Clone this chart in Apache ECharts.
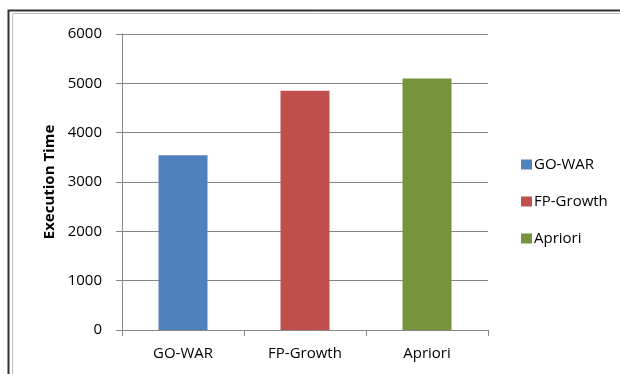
<!DOCTYPE html>
<html>
<head>
<meta charset="utf-8">
<script src="https://cdn.jsdelivr.net/npm/echarts@6/dist/echarts.min.js"></script>
<style>
html,body{margin:0;padding:0;background:#fff;}
#main{width:620px;height:374px;}
</style>
</head>
<body>
<div id="main"></div>
<script>
const categories = ['GO-WAR', 'FP-Growth', 'Apriori'];
const seriesNames = ['GO-WAR', 'FP-Growth', 'Apriori'];
const values = [3540, 4850, 5100];
const colors = ['#4F81BD', '#C0504D', '#77933C'];
const yTicks = { min: 0, max: 6000, interval: 1000 };

const font = 'Open Sans';
const chart = echarts.init(document.getElementById('main'));
const series = seriesNames.map((name, i) => ({
  name: name,
  type: 'bar',
  stack: 'all',
  barWidth: 49,
  itemStyle: { color: colors[i] },
  data: categories.map((c, j) => (j === i ? values[i] : '-'))
}));

chart.setOption({
  animation: false,
  textStyle: { fontFamily: font },
  graphic: [
    { type: 'rect', shape: { x: 8.5, y: 10.5, width: 700, height: 500 }, style: { fill: 'none', stroke: '#333', lineWidth: 2 } },
    { type: 'rect', shape: { x: 12.5, y: 13.5, width: 700, height: 500 }, style: { fill: 'none', stroke: '#bbb', lineWidth: 1 } }
  ],
  grid: { left: 122, right: 132, top: 34, bottom: 44 },
  legend: {
    orient: 'vertical',
    left: 516,
    top: 151,
    itemWidth: 11,
    itemHeight: 10,
    itemGap: 20,
    icon: 'rect',
    data: seriesNames,
    textStyle: { fontFamily: font, fontSize: 15, color: '#000', padding: [0, 0, 0, -3], lineHeight: 17 }
  },
  xAxis: {
    type: 'category',
    data: categories,
    axisLine: { lineStyle: { color: '#868686', width: 1 } },
    axisTick: { show: true, length: 6, lineStyle: { color: '#868686' } },
    axisLabel: { color: '#000', fontSize: 15, margin: 16, fontFamily: font }
  },
  yAxis: {
    type: 'value',
    min: yTicks.min,
    max: yTicks.max,
    interval: yTicks.interval,
    name: 'Execution Time',
    nameLocation: 'middle',
    nameGap: 64,
    nameRotate: 90,
    nameTextStyle: { fontWeight: 'bold', fontSize: 15, color: '#000', fontFamily: font },
    axisLine: { show: true, lineStyle: { color: '#868686' } },
    axisTick: { show: true, length: 6, lineStyle: { color: '#868686' } },
    axisLabel: { color: '#000', fontSize: 15, margin: 20, fontFamily: font, formatter: v => String(v) },
    splitLine: { lineStyle: { color: '#868686', width: 1 } }
  },
  series: series
});
</script>
</body>
</html>
